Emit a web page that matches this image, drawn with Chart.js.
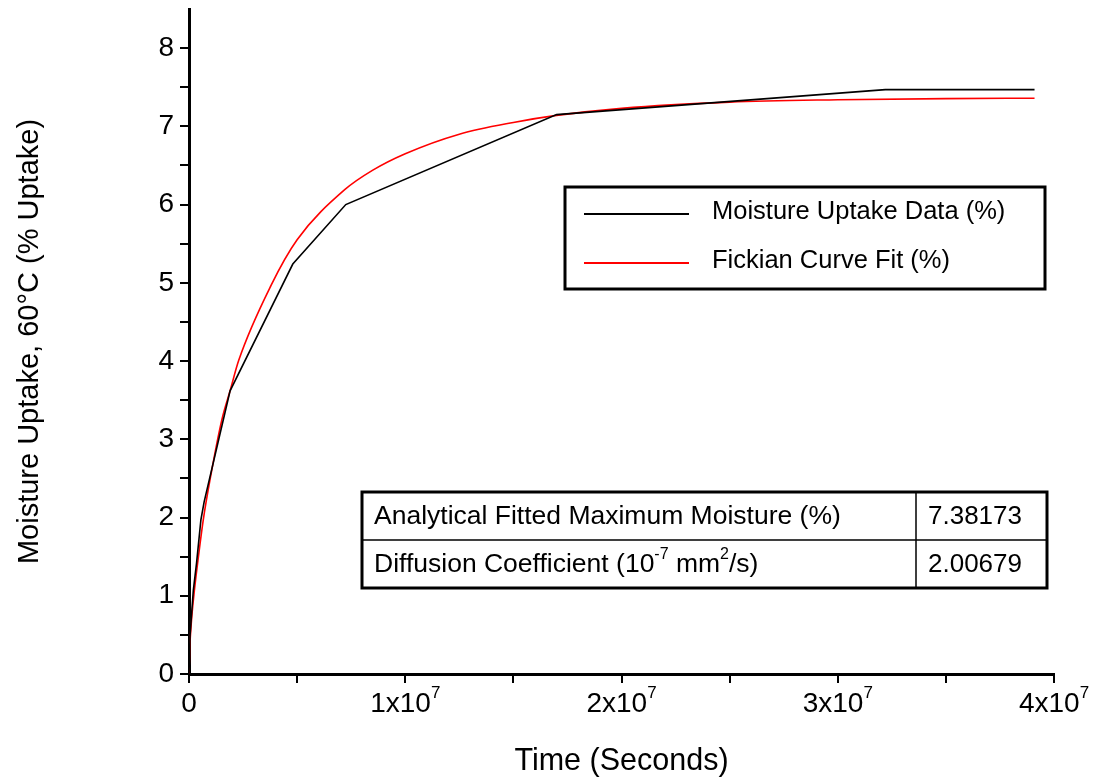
<!DOCTYPE html>
<html>
<head>
<meta charset="utf-8">
<script src="https://cdn.jsdelivr.net/npm/chart.js@4"></script>
<style>
  html, body { margin: 0; padding: 0; background: #fff; }
</style>
</head>
<body>
<canvas id="chart" width="1098" height="780"></canvas>
<script>
// measured moisture uptake (black line)
const dataTime   = [0, 0.05e6, 0.2e6, 0.35e6, 0.55e6, 0.7e6, 1.9e6, 4.8e6, 7.25e6, 17.0e6, 32.2e6, 39.1e6];
const dataUptake = [0, 0.5, 1.07, 1.42, 1.97, 2.2, 3.62, 5.24, 6.0, 7.15, 7.47, 7.47];

// fickian fit (red line)
const fitTime   = [0, 0.03e6, 0.12e6, 0.25e6, 0.4e6, 0.66e6, 0.97e6, 1.52e6, 1.9e6, 2.3e6, 3.8e6, 5.0e6, 7.2e6, 8.5e6, 10e6, 12.5e6, 15e6, 17e6, 20e6, 25e6, 30e6, 35e6, 39.1e6];
const fitUptake = [0, 0.3, 0.7, 1.07, 1.42, 1.97, 2.48, 3.25, 3.62, 4.01, 4.97, 5.55, 6.19, 6.44, 6.65, 6.90, 7.05, 7.14, 7.23, 7.31, 7.34, 7.355, 7.36];

const seriesLabels = ['Moisture Uptake Data (%)', 'Fickian Curve Fit (%)'];

const xTickValues = [0, 1e7, 2e7, 3e7, 4e7];

const tableLabels = ['Analytical Fitted Maximum Moisture (%)', 'Diffusion Coefficient'];
const tableValues = ['7.38173', '2.00679'];

const FONT = 'Liberation Sans, Arial, sans-serif';

function toPoints(xs, ys) {
  return xs.map((x, i) => ({x: x, y: ys[i]}));
}

function richWidth(ctx, parts, size) {
  let w = 0;
  parts.forEach(p => {
    ctx.font = (p.sup ? Math.round(size * 0.62) : size) + 'px ' + FONT;
    w += ctx.measureText(p.t).width;
  });
  return w;
}

// draws text pieces, some raised as superscripts
function drawRich(ctx, parts, x, y, size) {
  parts.forEach(p => {
    if (p.sup) {
      ctx.font = Math.round(size * 0.62) + 'px ' + FONT;
      ctx.fillText(p.t, x, y - size * 0.38);
    } else {
      ctx.font = size + 'px ' + FONT;
      ctx.fillText(p.t, x, y);
    }
    x += ctx.measureText(p.t).width;
  });
}

const boxesPlugin = {
  id: 'boxes',
  afterDraw(chart) {
    const ctx = chart.ctx;
    ctx.save();
    ctx.fillStyle = '#000';
    ctx.strokeStyle = '#000';
    ctx.textBaseline = 'middle';

    // x tick labels with real superscripts
    const xs = chart.scales.x;
    xTickValues.forEach(v => {
      const n = v / 1e7;
      const parts = n === 0 ? [{t: '0'}] : [{t: n + 'x10'}, {t: '7', sup: true}];
      const w = richWidth(ctx, parts, 28);
      ctx.fillStyle = '#000';
      drawRich(ctx, parts, xs.getPixelForValue(v) - w / 2, 704, 28);
    });

    // legend box
    const lg = {l: 565, t: 187, r: 1045, b: 289};
    ctx.fillStyle = '#fff';
    ctx.fillRect(lg.l, lg.t, lg.r - lg.l, lg.b - lg.t);
    ctx.lineWidth = 3;
    ctx.strokeRect(lg.l, lg.t, lg.r - lg.l, lg.b - lg.t);
    const rows = [214, 263];
    chart.data.datasets.forEach((ds, i) => {
      ctx.strokeStyle = ds.borderColor;
      ctx.lineWidth = 2;
      ctx.beginPath();
      ctx.moveTo(584, rows[i]);
      ctx.lineTo(689, rows[i]);
      ctx.stroke();
      ctx.fillStyle = '#000';
      ctx.font = '25.5px ' + FONT;
      ctx.fillText(ds.label, 712, rows[i] - 2);
    });

    // results table
    const tb = {l: 362, t: 492, r: 1047, b: 588, mid: 540, col: 916};
    ctx.fillStyle = '#fff';
    ctx.fillRect(tb.l, tb.t, tb.r - tb.l, tb.b - tb.t);
    ctx.strokeStyle = '#000';
    ctx.lineWidth = 3;
    ctx.strokeRect(tb.l, tb.t, tb.r - tb.l, tb.b - tb.t);
    ctx.lineWidth = 1.5;
    ctx.beginPath();
    ctx.moveTo(tb.l, tb.mid); ctx.lineTo(tb.r, tb.mid);
    ctx.moveTo(tb.col, tb.t); ctx.lineTo(tb.col, tb.b);
    ctx.stroke();
    ctx.fillStyle = '#000';
    ctx.font = '26.5px ' + FONT;
    ctx.fillText(tableLabels[0], 374, 517);
    drawRich(ctx, [{t: tableLabels[1] + ' (10'}, {t: '-7', sup: true}, {t: ' mm'}, {t: '2', sup: true}, {t: '/s)'}], 374, 565, 26.5);
    ctx.font = '26px ' + FONT;
    ctx.fillText(tableValues[0], 928, 517);
    ctx.fillText(tableValues[1], 928, 565);
    ctx.restore();
  }
};

new Chart(document.getElementById('chart'), {
  type: 'scatter',
  data: {
    datasets: [
      {
        label: seriesLabels[0],
        data: toPoints(dataTime, dataUptake),
        showLine: true,
        borderColor: '#000000',
        borderWidth: 1.6,
        pointRadius: 0,
        tension: 0
      },
      {
        label: seriesLabels[1],
        data: toPoints(fitTime, fitUptake),
        showLine: true,
        borderColor: '#ff0000',
        borderWidth: 1.6,
        pointRadius: 0,
        cubicInterpolationMode: 'monotone'
      }
    ]
  },
  options: {
    responsive: false,
    animation: false,
    layout: {padding: {top: 9, right: 44, left: 0, bottom: 0}},
    plugins: {
      legend: {display: false},
      tooltip: {enabled: false}
    },
    scales: {
      x: {
        type: 'linear',
        min: 0,
        max: 4e7,
        border: {display: true, color: '#000', width: 3},
        grid: {drawOnChartArea: false, drawTicks: true, tickLength: 9, color: '#000', lineWidth: 2},
        ticks: {
          stepSize: 0.5e7,
          autoSkip: false,
          maxRotation: 0,
          color: '#000',
          font: {family: FONT, size: 28},
          callback: () => ''
        },
        title: {display: true, text: 'Time (Seconds)', color: '#000', font: {family: FONT, size: 30.5}, padding: 0},
        afterFit: s => { s.height = 106; s.paddingLeft = 0; s.paddingRight = 0; }
      },
      y: {
        type: 'linear',
        min: 0,
        max: 8.5,
        border: {display: true, color: '#000', width: 3},
        grid: {drawOnChartArea: false, drawTicks: true, tickLength: 9, color: '#000', lineWidth: 2},
        ticks: {
          stepSize: 0.5,
          autoSkip: false,
          color: '#000',
          padding: 6,
          font: {family: FONT, size: 28},
          callback: v => {
            if (v >= 8.5) return null;
            return Number.isInteger(v) ? String(v) : '';
          }
        },
        title: {display: true, text: 'Moisture Uptake, 60°C (% Uptake)', color: '#000', font: {family: FONT, size: 29}, padding: 13},
        afterFit: s => { s.width = 189; s.paddingTop = 0; s.paddingBottom = 0; }
      }
    }
  },
  plugins: [boxesPlugin]
});
</script>
</body>
</html>
